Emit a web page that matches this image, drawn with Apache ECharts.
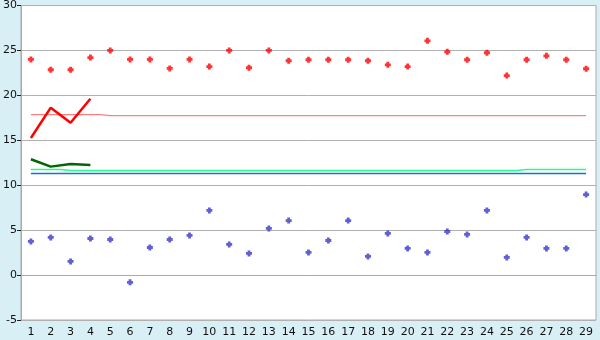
<!DOCTYPE html>
<html><head><meta charset="utf-8">
<script src="https://cdn.jsdelivr.net/npm/echarts@6/dist/echarts.min.js"></script>
<style>html,body{margin:0;padding:0;background:#d9eff6;}#c{width:600px;height:340px;}</style>
</head><body><div id="c"></div>
<script>
const categories = ['1','2','3','4','5','6','7','8','9','10','11','12','13','14','15','16','17','18','19','20','21','22','23','24','25','26','27','28','29'];
const yTicks = [-5, 0, 5, 10, 15, 20, 25, 30];
const upperPoints = [24, 22.85, 22.85, 24.2, 25, 24, 24, 23, 24, 23.2, 25, 23.07, 25, 23.85, 23.96, 23.96, 23.96, 23.85, 23.4, 23.2, 26.07, 24.85, 23.96, 24.74, 22.2, 23.96, 24.4, 23.96, 22.96];
const lowerPoints = [3.75, 4.19, 1.52, 4.07, 3.96, -0.81, 3.07, 3.96, 4.41, 7.19, 3.41, 2.41, 5.19, 6.07, 2.52, 3.85, 6.07, 2.07, 4.63, 2.96, 2.52, 4.85, 4.52, 7.19, 1.96, 4.19, 2.96, 2.96, 8.96];
const redLine = [15.26, 18.63, 16.96, 19.63];
const darkGreenLine = [12.89, 12.07, 12.37, 12.26];
const pinkLevel = [17.85, 17.85, 17.85, 17.85, 17.74, 17.74, 17.74, 17.74, 17.74, 17.74, 17.74, 17.74, 17.74, 17.74, 17.74, 17.74, 17.74, 17.74, 17.74, 17.74, 17.74, 17.74, 17.74, 17.74, 17.74, 17.74, 17.74, 17.74, 17.74];
const greenLevel = [11.74, 11.74, 11.63, 11.63, 11.63, 11.63, 11.63, 11.63, 11.63, 11.63, 11.63, 11.63, 11.63, 11.63, 11.63, 11.63, 11.63, 11.63, 11.63, 11.63, 11.63, 11.63, 11.63, 11.63, 11.63, 11.74, 11.74, 11.74, 11.74];
const blueLevel = [11.3, 11.3, 11.3, 11.3, 11.3, 11.3, 11.3, 11.3, 11.3, 11.3, 11.3, 11.3, 11.3, 11.3, 11.3, 11.3, 11.3, 11.3, 11.3, 11.3, 11.3, 11.3, 11.3, 11.3, 11.3, 11.3, 11.3, 11.3, 11.3];

const plus = 'path://M1.6,0H4.4V1.6H6V4.4H4.4V6H1.6V4.4H0V1.6H1.6Z';
const chart = echarts.init(document.getElementById('c'), null, {renderer: 'canvas'});
chart.setOption({
  animation: false,
  backgroundColor: '#d9eff6',
  textStyle: {fontFamily: 'DejaVu Sans'},
  grid: {left: 20, right: 4, top: 5, bottom: 20, show: true, backgroundColor: '#ffffff', borderColor: '#aaaaaa', borderWidth: 1},
  xAxis: {
    type: 'category', data: categories, boundaryGap: true,
    axisLine: {lineStyle: {color: '#aaaaaa'}},
    axisTick: {alignWithLabel: true, length: 5, lineStyle: {color: '#222222'}},
    axisLabel: {color: '#111', fontSize: 11, margin: 7, interval: 0, fontFamily: 'DejaVu Sans'}
  },
  yAxis: {
    type: 'value', min: yTicks[0], max: yTicks[yTicks.length - 1], interval: 5,
    axisLine: {show: true, lineStyle: {color: '#aaaaaa'}},
    axisTick: {show: true, length: 4, lineStyle: {color: '#222222'}},
    axisLabel: {color: '#111', fontSize: 11, margin: 4, fontFamily: 'DejaVu Sans'},
    splitLine: {lineStyle: {color: '#b0b0b0', width: 1}}
  },
  series: [
    {type: 'line', data: pinkLevel, step: 'middle', symbol: 'none', lineStyle: {color: '#ff7f7f', width: 1.2}, z: 2},
    {type: 'line', data: greenLevel, step: 'middle', symbol: 'none', lineStyle: {color: '#22ff88', width: 1.5}, z: 2},
    {type: 'line', data: blueLevel, symbol: 'none', lineStyle: {color: '#1a6ee0', width: 1.5}, z: 2},
    {type: 'line', data: redLine, symbol: 'none', lineStyle: {color: '#ff0000', width: 2.5}, z: 3},
    {type: 'line', data: darkGreenLine, symbol: 'none', lineStyle: {color: '#006600', width: 2.5}, z: 3},
    {type: 'scatter', data: upperPoints, symbol: plus, symbolSize: 6, itemStyle: {color: '#ff0000'}, z: 4},
    {type: 'scatter', data: lowerPoints, symbol: plus, symbolSize: 6, itemStyle: {color: '#3a36cc'}, z: 4}
  ]
});
</script></body></html>
